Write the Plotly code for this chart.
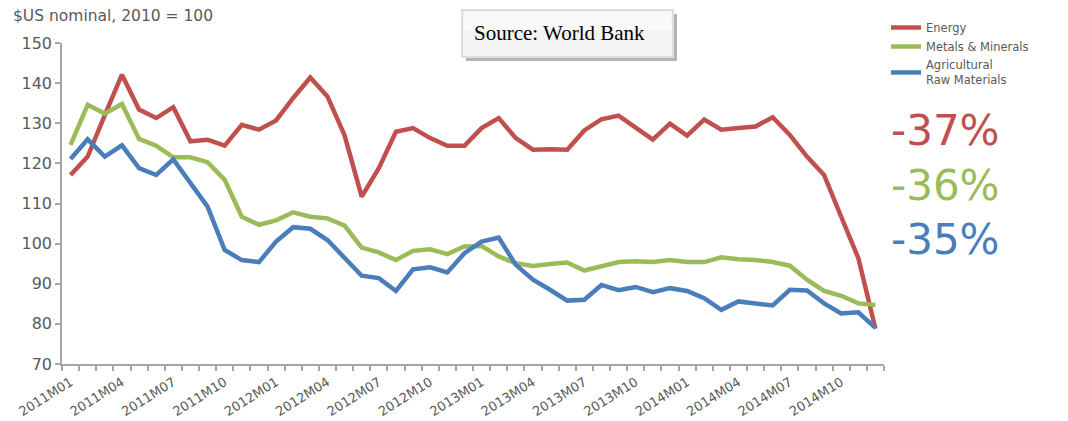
import plotly.graph_objects as go

# Monthly commodity price indices, $US nominal (2010 = 100)
months = [f"{y}M{m:02d}" for y in (2011, 2012, 2013, 2014) for m in range(1, 13)]

energy = [117.1, 121.7, 132.0, 142.1, 133.4, 131.3, 134.0, 125.5, 125.9, 124.4, 129.6, 128.4,
          130.7, 136.3, 141.4, 136.7, 127.0, 111.7, 118.8, 127.9, 128.8, 126.3, 124.4, 124.4,
          128.8, 131.3, 126.3, 123.4, 123.5, 123.4, 128.2, 131.0, 131.9, 128.8, 125.9, 129.9,
          126.9, 130.9, 128.4, 128.8, 129.2, 131.5, 127.1, 121.7, 117.1, 106.7, 96.4, 78.8]

metals = [124.6, 134.6, 132.4, 134.8, 126.1, 124.4, 121.5, 121.5, 120.3, 115.9, 106.7, 104.7,
          105.8, 107.8, 106.7, 106.3, 104.5, 99.0, 97.8, 95.9, 98.2, 98.6, 97.4, 99.3,
          99.4, 96.8, 95.1, 94.4, 94.9, 95.3, 93.3, 94.3, 95.4, 95.6, 95.4, 95.9,
          95.4, 95.4, 96.6, 96.1, 95.9, 95.4, 94.5, 91.0, 88.2, 87.0, 85.1, 84.7]

agri = [121.1, 126.0, 121.7, 124.5, 118.8, 117.1, 121.0, 115.1, 109.2, 98.4, 95.9, 95.4,
        100.5, 104.1, 103.7, 100.9, 96.4, 92.0, 91.4, 88.2, 93.6, 94.1, 92.8, 97.6,
        100.5, 101.5, 94.7, 91.0, 88.5, 85.8, 86.0, 89.7, 88.4, 89.2, 87.9, 88.9,
        88.2, 86.4, 83.5, 85.6, 85.1, 84.6, 88.5, 88.3, 85.1, 82.6, 82.9, 79.0]

series_names = ["Energy", "Metals & Minerals", "Agricultural<br>Raw Materials"]
series_colors = ["#c0504d", "#9bbb59", "#4a7ebb"]
changes = ["-37%", "-36%", "-35%"]

tick_labels = months[::3]
tick_pos = list(range(0, len(months), 3))

idx = list(range(len(months)))

fig = go.Figure()
for name, vals, col in zip(series_names, [energy, metals, agri], series_colors):
    fig.add_trace(go.Scatter(x=idx, y=vals, mode="lines", name=name,
                             line=dict(color=col, width=4.5)))

W, H = 1068, 421
L, R, T, B = 62, 184, 43, 57
pw, ph = W - L - R, H - T - B


def px(xp):
    return (xp - L) / pw


def py(yp):
    return (H - B - yp) / ph


axis_grey = "#a6a6a6"
text_grey = "#595959"

fig.update_layout(
    width=W, height=H,
    margin=dict(l=L, r=R, t=T, b=B, autoexpand=False),
    paper_bgcolor="white", plot_bgcolor="white",
    font=dict(family="DejaVu Sans", color=text_grey),
    showlegend=True,
    legend=dict(x=px(886), y=py(13), xanchor="left", yanchor="top",
                font=dict(size=11.5, color=text_grey), tracegroupgap=0,
                bgcolor="rgba(0,0,0,0)", itemwidth=30),
    xaxis=dict(range=[-0.5, len(months) - 0.5], tickmode="array",
               tickvals=tick_pos, ticktext=tick_labels, tickangle=-32,
               ticks="", showline=True, linecolor=axis_grey, linewidth=1.5,
               showgrid=False, zeroline=False, ticklabelstandoff=4,
               automargin=False,
               tickfont=dict(size=13, color=text_grey),
               minor=dict(ticks="outside", tick0=-0.5, dtick=1, ticklen=5,
                          tickcolor=axis_grey, tickwidth=1.5, showgrid=False)),
    yaxis=dict(range=[70, 150], dtick=10, ticks="outside", ticklen=5,
               tickcolor=axis_grey, tickwidth=1.5, showline=True,
               linecolor=axis_grey, linewidth=1.5, showgrid=False,
               zeroline=False, automargin=False,
               tickfont=dict(size=16, color=text_grey)),
)

# Unit caption above the value axis
fig.add_annotation(text="$US nominal, 2010 = 100", xref="paper", yref="paper",
                   x=px(11), y=py(16), xanchor="left", yanchor="middle",
                   showarrow=False, font=dict(size=15.5, color=text_grey))

# Percentage changes next to the legend, one coloured line per series
change_text = "<br>".join(
    f"<span style='color:{col}'>{txt}</span>" for txt, col in zip(changes, series_colors))
fig.add_annotation(text=change_text, xref="paper", yref="paper",
                   x=px(889), y=py(185), xanchor="left", yanchor="middle",
                   align="left", showarrow=False,
                   font=dict(size=42, color=series_colors[0]))

# Source box with drop shadow
fig.add_shape(type="rect", xref="paper", yref="paper",
              x0=px(466), x1=px(677), y0=py(14), y1=py(61),
              fillcolor="#b5b5b5", line=dict(width=0), layer="above")
fig.add_shape(type="rect", xref="paper", yref="paper",
              x0=px(462), x1=px(673), y0=py(10), y1=py(57),
              fillcolor="#f3f3f3", line=dict(color="#dedede", width=2), layer="above")
fig.add_shape(type="rect", xref="paper", yref="paper",
              x0=px(464), x1=px(671), y0=py(12), y1=py(30),
              fillcolor="#fafafa", line=dict(width=0), layer="above")
fig.add_annotation(text="Source: World Bank", xref="paper", yref="paper",
                   x=px(472), y=py(33), xanchor="left", yanchor="middle",
                   showarrow=False,
                   font=dict(family="Liberation Serif", size=21, color="black"))

fig.write_html("out.html")
